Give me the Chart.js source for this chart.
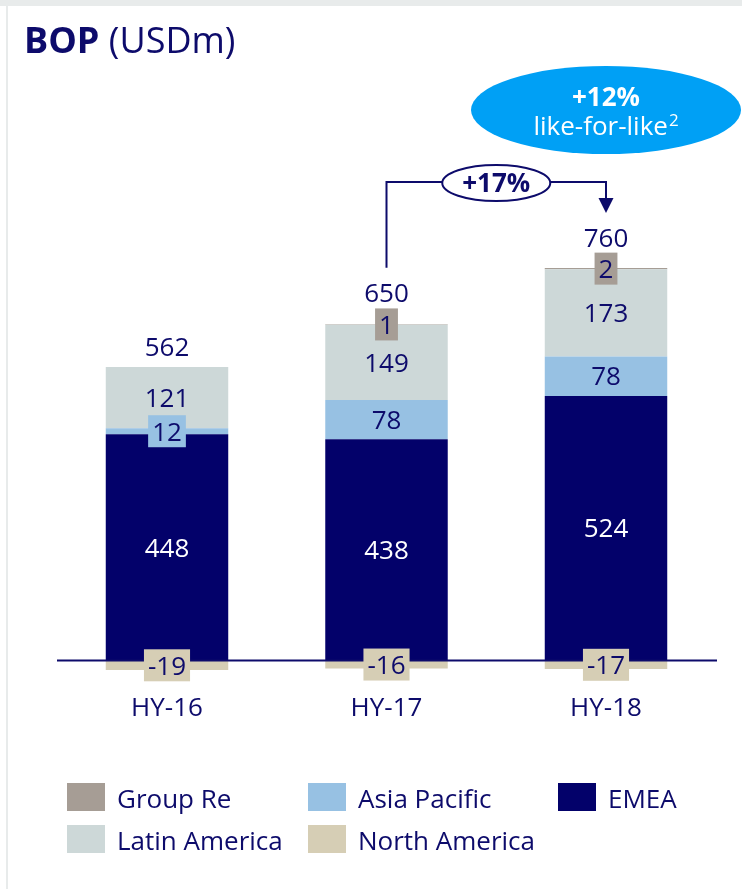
<!DOCTYPE html>
<html>
<head>
<meta charset="utf-8">
<script src="https://cdn.jsdelivr.net/npm/chart.js@4.4.1/dist/chart.umd.min.js"></script>
<style>
  html, body { margin: 0; padding: 0; background: #fff; }
  #wrap { position: relative; width: 742px; height: 889px; overflow: hidden; font-family: "Open Sans", sans-serif; color: #0d0b6b; }
  #frameTop { position: absolute; left: 0; top: 0; width: 742px; height: 6px; background: #e8ebeb; }
  #frameLeft { position: absolute; left: 6px; top: 6px; width: 2px; height: 883px; background: #e8ebeb; }
  #chart { position: absolute; left: 0; top: 0; }
  .title { position: absolute; left: 24px; top: 22px; font-size: 36px; line-height: 36px; white-space: nowrap; }
  .title b { font-weight: 700; }
  .lg { position: absolute; font-size: 26px; line-height: 26px; white-space: nowrap; }
  .sw { position: absolute; width: 38px; height: 28px; }
</style>
</head>
<body>
<div id="wrap">
  <div id="frameTop"></div>
  <div id="frameLeft"></div>
  <canvas id="chart" width="742" height="889"></canvas>
  <div class="title"><b>BOP</b> (USDm)</div>
  <div id="legend"></div>
</div>
<script>
// data
var categories = ['HY-16', 'HY-17', 'HY-18'];
var northAmerica = [-19, -16, -17];
var emea = [448, 438, 524];
var asiaPacific = [12, 78, 78];
var latinAmerica = [121, 149, 173];
var groupRe = [0, 1, 2];
var totals = [562, 650, 760];
var growthText = '+17%';
var lflText = '+12%';
var lflSub = 'like-for-like';

var NAVY = '#0d0b6b';
var colors = {
  'Group Re': '#a69d95',
  'Asia Pacific': '#97c1e3',
  'EMEA': '#03016a',
  'Latin America': '#cdd8d8',
  'North America': '#d6ceb5'
};

// legend (html)
var legendItems = [
  { name: 'Group Re', x: 67, y: 783 },
  { name: 'Asia Pacific', x: 308, y: 783 },
  { name: 'EMEA', x: 558, y: 783 },
  { name: 'Latin America', x: 67, y: 825 },
  { name: 'North America', x: 308, y: 825 }
];
var legendEl = document.getElementById('legend');
legendItems.forEach(function(it) {
  var sw = document.createElement('div');
  sw.className = 'sw';
  sw.style.left = it.x + 'px';
  sw.style.top = it.y + 'px';
  sw.style.background = colors[it.name];
  legendEl.appendChild(sw);
  var t = document.createElement('div');
  t.className = 'lg';
  t.style.left = (it.x + 50) + 'px';
  t.style.top = (it.y + 2) + 'px';
  t.textContent = it.name;
  legendEl.appendChild(t);
});

var FONT = '26px "Open Sans", sans-serif';
var CAP = 18.6;

var labelsPlugin = {
  id: 'bopLabels',
  afterDatasetsDraw: function(chart) {
    var ctx = chart.ctx;
    var xs = chart.scales.x, ys = chart.scales.y;
    var y0 = ys.getPixelForValue(0);

    ctx.save();
    // baseline
    ctx.strokeStyle = NAVY;
    ctx.lineWidth = 2;
    ctx.beginPath();
    ctx.moveTo(57, y0);
    ctx.lineTo(717, y0);
    ctx.stroke();

    ctx.font = FONT;
    ctx.textAlign = 'center';
    ctx.textBaseline = 'alphabetic';

    var tops = [];
    chart.data.datasets.forEach(function(ds, di) {
      var meta = chart.getDatasetMeta(di);
      meta.data.forEach(function(el, i) {
        var v = ds.data[i];
        if (v > 0) tops[i] = el.y;
        if (!v) return;
        var h = Math.abs(el.base - el.y);
        var cy = (el.base + el.y) / 2;
        var txt = String(v);
        if (h < 30) {
          var w = ctx.measureText(txt).width + 8;
          ctx.fillStyle = ds.backgroundColor;
          ctx.fillRect(el.x - w / 2, cy - 16, w, 32);
          if (ds.label === 'Group Re') tops[i] = cy - 16 + 5;
        }
        ctx.fillStyle = ds.label === 'EMEA' ? '#ffffff' : NAVY;
        ctx.fillText(txt, el.x, cy + CAP / 2);
      });
    });

    // totals + category labels
    var totalBase = [];
    totals.forEach(function(t, i) {
      var x = xs.getPixelForValue(i);
      var b = tops[i] - 11;
      totalBase[i] = b;
      ctx.fillStyle = NAVY;
      ctx.fillText(String(t), x, b);
      ctx.fillText(categories[i], x, 716);
    });

    // growth bracket HY-17 -> HY-18
    var xa = xs.getPixelForValue(1), xb = xs.getPixelForValue(2);
    var startY = totalBase[1] - CAP - 16;
    var tipY = totalBase[2] - CAP - 15;
    var by = tipY - 31;
    ctx.strokeStyle = NAVY;
    ctx.lineWidth = 2;
    ctx.beginPath();
    ctx.moveTo(xa, startY);
    ctx.lineTo(xa, by);
    ctx.lineTo(xb, by);
    ctx.lineTo(xb, tipY - 12);
    ctx.stroke();
    ctx.fillStyle = NAVY;
    ctx.beginPath();
    ctx.moveTo(xb - 7.5, tipY - 15);
    ctx.lineTo(xb + 7.5, tipY - 15);
    ctx.lineTo(xb, tipY);
    ctx.closePath();
    ctx.fill();

    var mx = (xa + xb) / 2;
    ctx.beginPath();
    ctx.ellipse(mx, by + 1, 54, 18, 0, 0, Math.PI * 2);
    ctx.fillStyle = '#ffffff';
    ctx.fill();
    ctx.stroke();
    ctx.fillStyle = NAVY;
    ctx.font = 'bold 26px "Open Sans", sans-serif';
    ctx.fillText(growthText, mx, by + 10);

    // like-for-like bubble
    ctx.beginPath();
    ctx.ellipse(xb, 110, 135, 44, 0, 0, Math.PI * 2);
    ctx.fillStyle = '#00a0f5';
    ctx.fill();
    ctx.fillStyle = '#ffffff';
    ctx.font = 'bold 26px "Open Sans", sans-serif';
    ctx.fillText(lflText, xb, 106);
    ctx.font = FONT;
    var sw = ctx.measureText(lflSub).width;
    ctx.font = '17px "Open Sans", sans-serif';
    var supW = ctx.measureText('2').width;
    var left = xb - (sw + supW + 1) / 2;
    ctx.textAlign = 'left';
    ctx.font = FONT;
    ctx.fillText(lflSub, left, 135);
    ctx.font = '17px "Open Sans", sans-serif';
    ctx.fillText('2', left + sw + 1, 126);
    ctx.restore();
  }
};

function makeSet(label, data) {
  return {
    label: label,
    data: data,
    backgroundColor: colors[label],
    borderWidth: 0,
    stack: 'bop'
  };
}

var chart = new Chart(document.getElementById('chart').getContext('2d'), {
  type: 'bar',
  data: {
    labels: categories,
    datasets: [
      makeSet('North America', northAmerica),
      makeSet('EMEA', emea),
      makeSet('Asia Pacific', asiaPacific),
      makeSet('Latin America', latinAmerica),
      makeSet('Group Re', groupRe)
    ]
  },
  options: {
    responsive: false,
    animation: false,
    devicePixelRatio: 1,
    layout: { padding: { left: 57.25, right: 26.25, top: 256.5, bottom: 198.2 } },
    categoryPercentage: 0.558,
    barPercentage: 1,
    plugins: {
      legend: { display: false },
      tooltip: { enabled: false }
    },
    scales: {
      x: { display: false, stacked: true },
      y: { display: false, stacked: true, min: -60, max: 800 }
    }
  },
  plugins: [labelsPlugin]
});
</script>
</body>
</html>
